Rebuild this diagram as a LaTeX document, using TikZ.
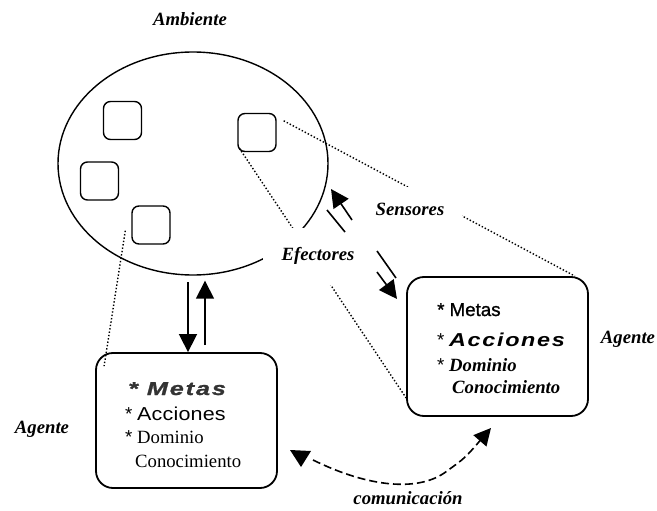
\documentclass[tikz,border=0pt]{standalone}
\usepackage{fontspec}
\setmainfont{Liberation Serif}
\setsansfont{Liberation Sans}
\newfontfamily\wideA[FakeStretch=1.15,LetterSpace=1]{Liberation Sans}
\newfontfamily\wideB[FakeStretch=1.25,LetterSpace=9]{Liberation Sans}
\newfontfamily\wideC[FakeStretch=1.35,LetterSpace=10,FakeBold=1.2]{Liberation Sans}
\newfontfamily\heavyS[FakeBold=1.2]{Liberation Sans}
\usetikzlibrary{arrows.meta,shapes.geometric}

\begin{document}
\begin{tikzpicture}[x=1pt,y=-1pt,
  every node/.style={font=\fontsize{18.7}{22}\selectfont},
  lbl/.style={font=\fontsize{18.7}{22}\selectfont\bfseries\itshape, inner sep=0},
  thing/.style={draw, line width=1.4pt, rounded corners=7pt, minimum width=38pt, minimum height=38pt, inner sep=0},
  agentbox/.style={draw, line width=1.8pt, rounded corners=17pt, inner sep=0},
  txt/.style={anchor=base west, inner sep=0},
  dotline/.style={line width=1.4pt, dash pattern=on 1.4pt off 2pt},
  arr/.style={line width=1.6pt, -{Triangle[width=18pt,length=18pt]}},
  plain/.style={line width=1.6pt},
  dashline/.style={line width=1.6pt, dash pattern=on 8pt off 4pt},
]
\useasboundingbox (0,0) rectangle (657,511);

% environment and its objects
\node[draw, ellipse, line width=1.4pt, minimum width=270pt, minimum height=223pt, inner sep=0] (amb) at (193,163.5) {};
\node[thing] (sqa) at (122.5,120.5) {};
\node[thing] (sqb) at (99.5,181) {};
\node[thing] (sqc) at (151,225) {};
\node[thing] (sqd) at (257,132.5) {};

% agents
\node[agentbox, minimum width=181pt, minimum height=135pt] (agl) at (186.5,420.5) {};
\node[agentbox, minimum width=181pt, minimum height=139pt] (agr) at (497.5,346.5) {};

% dotted projection lines
\draw[dotline] ([shift={(7,8)}]sqd.north east) -- ([shift={(-14,0)}]agr.north east);
\draw[dotline] ([shift={(2,-4)}]sqd.south west) -- ([shift={(0,-19)}]agr.south west);
\draw[dotline] ([shift={(-6,-14)}]sqc.south west) -- ([shift={(9,14)}]agl.north west);

% labels that interrupt the lines
\node[lbl, fill=white, minimum width=110pt, minimum height=57pt] (efe) at (318,256) {Efectores};
\node[lbl, fill=white, minimum width=104pt, minimum height=44pt] (sen) at (410,209) {Sensores};

% sensor and effector arrows
\coordinate (sa) at (352,220);
\coordinate (sb) at (331,189);
\draw[arr] (sa) -- (sb);
\coordinate (pa) at (327,210);
\coordinate (pb) at (345,232);
\draw[plain] (pa) -- (pb);
\coordinate (ea) at (377,251);
\coordinate (eb) at (396,278);
\draw[plain] (ea) -- (eb);
\coordinate (fa) at (377,272);
\coordinate (fb) at (397,299);
\draw[arr] (fa) -- (fb);

% arrows between environment and lower agent
\coordinate (dn) at (188,282);
\draw[arr] (dn) -- (dn |- agl.north);
\coordinate (up) at (205,345);
\draw[arr, shorten >=5pt] (up) -- (up |- amb.south);

% communication
\coordinate (cl) at (313,460);
\coordinate (cr) at (491,428);
\draw[dashline, -{Triangle[width=17pt,length=17pt]}] (cl) .. controls (370,488) and (420,492) .. (447,471) .. controls (465,458) .. (cr);
\fill (290,450) -- (311,451) -- (301,467) -- cycle;

% texts
\node[lbl, anchor=base] (amblbl) at (190,26) {Ambiente};
\node[lbl, anchor=base] (agrlbl) at (628,343) {Agente};
\node[lbl, anchor=base] (agllbl) at (42,433) {Agente};
\node[lbl, anchor=base] (comlbl) at (408,504) {comunicación};

\node[txt, text=black!80] (lmet) at (128,395) {\wideC\bfseries\itshape * Metas};
\node[txt] (lacc) at (125,420) {{\sffamily *} {\wideA Acciones}};
\node[txt] (ldom) at (125,443) {{\sffamily *} Dominio};
\node[txt] (lcon) at (135,467) {Conocimiento};

\node[txt] (rmet) at (437,316) {\heavyS * Metas};
\node[txt] (racc) at (437,346) {{\sffamily *} {\wideB\bfseries\itshape Acciones}};
\node[txt] (rdom) at (437,371) {{\sffamily *} {\bfseries\itshape Dominio}};
\node[txt] (rcon) at (452,393) {\bfseries\itshape Conocimiento};
\end{tikzpicture}
\end{document}
